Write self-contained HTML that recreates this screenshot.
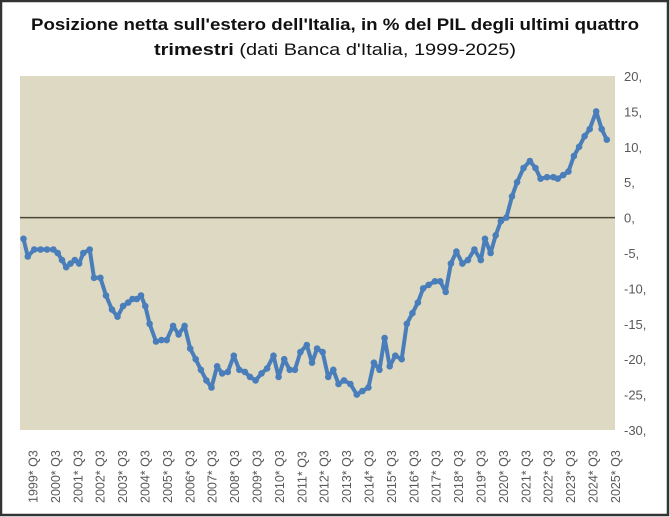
<!DOCTYPE html>
<html><head><meta charset="utf-8"><style>
html,body{margin:0;padding:0;background:#fff;}
svg{display:block;}
</style></head><body>
<svg id="s" width="670" height="517" xmlns="http://www.w3.org/2000/svg" font-family="'Liberation Sans', sans-serif">
<rect x="1" y="1" width="667" height="514" fill="#fff" stroke="#333" stroke-width="2.5"/>
<text x="335" y="30" text-anchor="middle" font-size="17" font-weight="bold" fill="#111" textLength="608" lengthAdjust="spacingAndGlyphs">Posizione netta sull'estero dell'Italia, in % del PIL degli ultimi quattro</text>
<text x="335" y="55" text-anchor="middle" font-size="17" fill="#111" textLength="362" lengthAdjust="spacingAndGlyphs"><tspan font-weight="bold">trimestri</tspan> (dati Banca d'Italia, 1999-2025)</text>
<rect x="20" y="76" width="595" height="354" fill="#ddd9c3"/>
<line x1="20" y1="217.6" x2="615" y2="217.6" stroke="#4a4535" stroke-width="1.5"/>
<g id="yl" font-size="13" fill="#595959"></g>
<g id="xl" font-size="12.5" fill="#595959"></g>
<g id="ser"></g>
</svg>
<script>
var s=document.getElementById('s');
var NS='http://www.w3.org/2000/svg';
function yv(v){return 217.6-v*7.08;}
var yl=document.getElementById('yl');
for(var v=20;v>=-30;v-=5){var t=document.createElementNS(NS,'text');t.setAttribute('x',624);t.setAttribute('y',yv(v)+5);t.textContent=v+',';yl.appendChild(t);}
var xl=document.getElementById('xl');
for(var i=0;i<=26;i++){var x=33+i*22.4;var t=document.createElementNS(NS,'text');t.setAttribute('transform','translate('+(x+4.5)+',503) rotate(-90)');t.textContent=(1999+i)+'* Q3';xl.appendChild(t);}
var d=[[55,-3],[65,-5.5],[80,-4.5],[95,-4.5],[110,-4.5],[125,-4.5],[135,-5],[145,-6],[155,-7],[165,-6.5],[175,-6],[185,-6.5],[195,-5],[210,-4.5],[220,-8.5],[235,-8.5],[248,-11],[262,-13],[275,-14],[288,-12.5],[300,-12],[310,-11.5],[320,-11.5],[330,-11],[340,-12.5],[350,-15],[365,-17.5],[378,-17.3],[390,-17.3],[405,-15.3],[418,-16.5],[432,-15.3],[445,-18.5],[458,-20],[470,-21.5],[483,-23],[495,-24],[508,-21],[520,-22],[533,-21.8],[547,-19.5],[560,-21.5],[573,-21.8],[585,-22.5],[598,-23],[612,-22],[625,-21.3],[640,-19.5],[652,-22.5],[665,-20],[678,-21.5],[690,-21.5],[703,-19],[718,-18],[730,-20.5],[742,-18.5],[755,-19],[768,-22.5],[780,-21.5],[792,-23.5],[805,-23],[820,-23.5],[835,-25],[848,-24.5],[862,-24],[875,-20.5],[888,-21.5],[900,-17],[912,-21],[925,-19.5],[940,-20],[952,-15],[965,-13.5],[978,-12],[990,-10],[1003,-9.5],[1018,-9],[1030,-9],[1043,-10.5],[1055,-6.5],[1068,-4.8],[1082,-6.5],[1095,-6],[1110,-4.5],[1125,-6],[1135,-3],[1148,-5],[1160,-2.5],[1172,-0.5],[1185,0],[1198,3],[1210,5],[1225,7],[1240,8],[1253,7],[1265,5.5],[1280,5.7],[1295,5.7],[1305,5.5],[1318,6],[1330,6.5],[1343,8.7],[1355,10],[1368,11.5],[1380,12.5],[1395,15],[1408,12.5],[1420,11]];
var g=document.getElementById('ser');var pts=[];
d.forEach(function(p){pts.push((p[0]/2.34).toFixed(1)+','+yv(p[1]).toFixed(1));});
var pl=document.createElementNS(NS,'polyline');pl.setAttribute('points',pts.join(' '));pl.setAttribute('fill','none');pl.setAttribute('stroke','#4a7ebb');pl.setAttribute('stroke-width','4');pl.setAttribute('stroke-linejoin','round');g.appendChild(pl);
d.forEach(function(p){var c=document.createElementNS(NS,'circle');c.setAttribute('cx',(p[0]/2.34).toFixed(1));c.setAttribute('cy',yv(p[1]).toFixed(1));c.setAttribute('r','3.3');c.setAttribute('fill','#4a7ebb');g.appendChild(c);});
</script>
</body></html>
